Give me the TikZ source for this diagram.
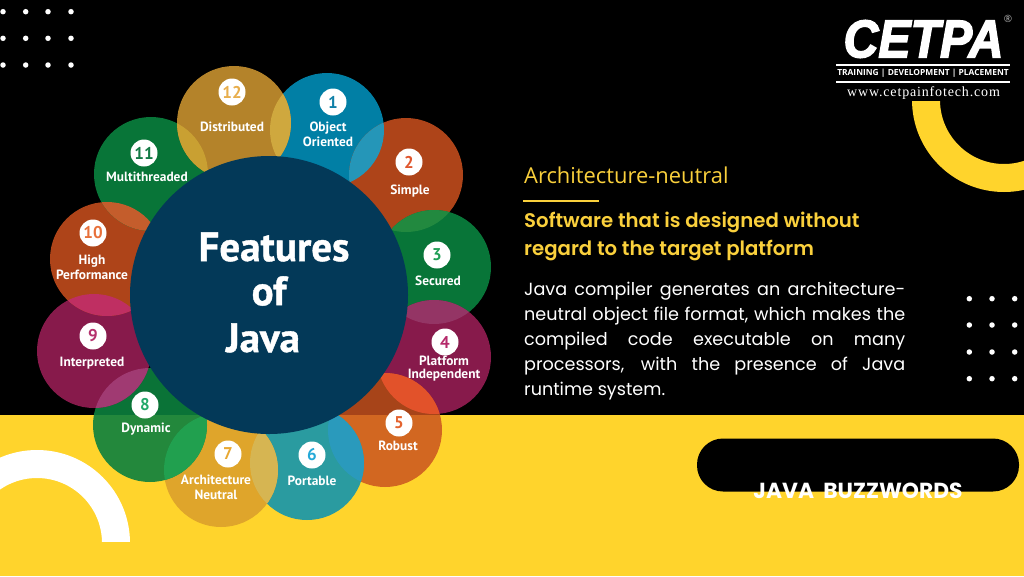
\documentclass[tikz,border=0pt]{standalone}
\usepackage{fontspec}
\setmainfont{Open Sans}
\newfontfamily\petalfont{PT Sans}
\newfontfamily\hubfont[FakeBold=1]{PT Sans}
\newfontfamily\bodyfont{Poppins}
\newfontfamily\subfont{Poppins SemiBold}
\newfontfamily\logofont[FakeBold=3]{Liberation Sans}
\newfontfamily\urlfont[LetterSpace=6]{Liberation Serif}
\definecolor{bandyellow}{RGB}{255,212,44}
\definecolor{hubblue}{RGB}{3,57,88}
\definecolor{titleyellow}{RGB}{250,208,60}
% petals
\definecolor{blue1}{RGB}{1,127,165}
\definecolor{rust}{RGB}{174,68,25}
\definecolor{forest}{RGB}{8,117,56}
\definecolor{plum}{RGB}{135,26,75}
\definecolor{orange5}{RGB}{202,82,31}
\definecolor{teal6}{RGB}{42,155,160}
\definecolor{gold7}{RGB}{223,165,43}
\definecolor{green8}{RGB}{12,128,62}
\definecolor{gold12}{RGB}{180,131,42}
% lenses
\definecolor{lensa}{RGB}{37,150,184}
\definecolor{lensb}{RGB}{34,137,63}
\definecolor{lensc}{RGB}{148,53,101}
\definecolor{lensd}{RGB}{226,82,42}
\definecolor{lense}{RGB}{42,154,188}
\definecolor{lensf}{RGB}{214,181,82}
\definecolor{lensg}{RGB}{33,160,79}
\definecolor{lensh}{RGB}{160,58,114}
\definecolor{lensi}{RGB}{191,47,98}
\definecolor{lensj}{RGB}{196,93,44}
\definecolor{lensk}{RGB}{201,160,50}
\definecolor{lensl}{RGB}{207,168,62}
% numbers
\definecolor{numa}{RGB}{15,128,168}
\definecolor{numb}{RGB}{224,86,45}
\definecolor{numc}{RGB}{31,158,85}
\definecolor{numd}{RGB}{181,42,107}
\definecolor{nume}{RGB}{228,99,47}
\definecolor{numf}{RGB}{37,169,216}
\definecolor{numg}{RGB}{232,168,50}
\definecolor{numh}{RGB}{34,168,106}
\definecolor{numi}{RGB}{181,49,110}
\definecolor{numj}{RGB}{232,112,58}
\definecolor{numk}{RGB}{19,122,69}
\definecolor{numl}{RGB}{232,174,76}
\tikzstyle{petal}=[circle,minimum size=114pt,inner sep=0pt]
\tikzstyle{badge}=[circle,fill=white,minimum size=27pt,inner sep=0pt,font=\petalfont\bfseries\fontsize{17}{17}\selectfont]
\tikzstyle{petaltext}=[text=white,align=center,inner sep=0pt,font=\petalfont\bfseries\fontsize{13.4}{15}\selectfont]
\tikzstyle{dotmark}=[circle,fill=white,minimum size=5.5pt,inner sep=0pt]
\tikzstyle{hubtext}=[text=white,font=\hubfont\bfseries\fontsize{41}{41}\selectfont]
\newcommand{\restwidth}{381pt}
\newcommand{\jline}[1]{\makebox[\restwidth][s]{#1}}

\begin{document}
\begin{tikzpicture}[x=1pt,y=-1pt]
    \useasboundingbox (0,0) rectangle (1024,576);
    % First we draw the background and the two rings
    \fill[black] (0,0) rectangle (1024,576);
    \fill[bandyellow] (0,415) rectangle (1024,576);
    \begin{scope}
        \clip (880,101.5) rectangle (1024,200);
        \fill[bandyellow,even odd rule] (1004,100) circle (92pt) (1004,100) circle (64pt);
    \end{scope}
    \begin{scope}
        \clip (0,440) rectangle (140,541);
        \fill[white,even odd rule] (37,543) circle (93pt) (37,543) circle (65pt);
    \end{scope}
    % Dots
    \foreach \x in {3,25.7,48,71}
        \foreach \y in {11.7,38.3,65}
            \node[dotmark] at (\x,\y) {};
    \foreach \x in {969.3,992,1014.7}
        \foreach \y in {298.7,325,352,378.7}
            \node[dotmark] at (\x,\y) {};
    % Then the petals
    \foreach \pos/\name/\col/\alp in {{(327,130)/p1/blue1/1},{(406,175)/p2/rust/1},
        {(434,267)/p3/forest/1},{(434,357)/p4/plum/1},{(385,430)/p5/orange5/.83},
        {(307,463)/p6/teal6/1},{(221,470)/p7/gold7/1},{(150,425)/p8/green8/.9},
        {(94,351)/p9/plum/1},{(107,259)/p10/rust/1},{(151,174)/p11/forest/1},
        {(234,123)/p12/gold12/1}}
        \node[petal,fill=\col,fill opacity=\alp] (\name) at \pos {};
    % Lighter lens where two petals meet
    \foreach \source/\dest/\col in {p1/p2/lensa,p2/p3/lensb,p3/p4/lensc,p4/p5/lensd,
        p5/p6/lense,p6/p7/lensf,p7/p8/lensg,p8/p9/lensh,p9/p10/lensi,p10/p11/lensj,
        p11/p12/lensk,p12/p1/lensl}
    {
        \begin{scope}
            \clip (\source) circle (57pt);
            \fill[\col] (\dest) circle (57pt);
        \end{scope}
    }
    % The big circle on top
    \node[circle,fill=hubblue,minimum size=278pt,inner sep=0pt] (hub) at (269,295) {};
    \node[hubtext] (features) at (274,247) {Features};
    \node[hubtext] (of) at (269,291) {of};
    \node[hubtext] (java) at (263,338) {Java};
    % Numbers
    \foreach \pos/\name/\num/\col in {{(333,102)/b1/1/numa},{(409,162)/b2/2/numb},
        {(437,255)/b3/3/numc},{(445,342)/b4/4/numd},{(399,423)/b5/5/nume},
        {(312,455)/b6/6/numf},{(228,454)/b7/7/numg},{(145,405)/b8/8/numh},
        {(93,336)/b9/9/numi},{(93,233)/b10/10/numj},{(144,153)/b11/11/numk},
        {(232,92)/b12/12/numl}}
        \node[badge,text=\col] (\name) at \pos {\num};
    % Petal names
    \foreach \pos/\name/\txt in {{(328,134)/t1/Object\\Oriented},{(410,191.5)/t2/Simple},
        {(438,281)/t3/Secured},{(444,369)/t4/Platform\\[-2pt]Independent},
        {(398,445.5)/t5/Robust},{(312,480.5)/t6/Portable},
        {(216,487)/t7/Architecture\\Neutral},{(146,429)/t8/Dynamic},
        {(92,363.5)/t9/Interpreted},{(92,267.5)/t10/High\\Performance},
        {(147,176.5)/t11/Multithreaded},{(232,126.5)/t12/Distributed}}
        \node[petaltext] (\name) at \pos {\txt};
    % Text on the right
    \node[anchor=west,inner sep=0pt,text=titleyellow,font=\fontsize{21.9}{21.9}\selectfont] (title) at (524,175) {Architecture-neutral};
    \coordinate (rulea) at (523,201); \coordinate (ruleb) at (599,201);
    \draw[titleyellow,line width=2.5pt] (rulea) -- (ruleb);
    \node[anchor=north west,inner sep=0pt,text=titleyellow,align=left,
        font=\subfont\fontsize{19.7}{28}\selectfont] (sub) at (524,212)
        {Software that is designed without\\regard to the target platform};
    \node[anchor=north west,inner sep=0pt,text=white,align=left,
        font=\bodyfont\fontsize{17.6}{25}\selectfont] (body) at (524,281.5)
        {\jline{Java compiler generates an architecture-}\\
         \jline{neutral object file format, which makes the}\\
         \jline{compiled code executable on many}\\
         \jline{processors, with the presence of Java}\\
         runtime system.};
    % Pill
    \node[fill=black,rounded corners=26pt,minimum width=322pt,minimum height=53pt,inner sep=0pt] (pill) at (858,465) {};
    \node[text=white,font=\bodyfont\bfseries\fontsize{21.8}{21.8}\selectfont] (buzz) at (858,491) {JAVA\ \ BUZZWORDS};
    % Logo
    \node[text=white,xscale=.91,font=\logofont\bfseries\itshape\fontsize{53}{53}\selectfont] (cetpa) at (923.5,39) {CETPA};
    \node[text=white!70!black,font=\fontsize{10}{10}\selectfont] (reg) at (1008,19) {®};
    \node[text=white,font=\fontsize{8.4}{8.4}\selectfont\bfseries] (tag) at (923,73.5) {TRAINING | DEVELOPMENT | PLACEMENT};
    \coordinate (la) at (836,65); \coordinate (lb) at (1010,65);
    \coordinate (lc) at (836,82); \coordinate (ld) at (1010,82);
    \draw[white,line width=1.5pt] (la) -- (lb) (lc) -- (ld);
    \node[text=white,font=\urlfont\fontsize{14}{14}\selectfont] (url) at (923.5,93) {www.cetpainfotech.com};
\end{tikzpicture}
\end{document}
